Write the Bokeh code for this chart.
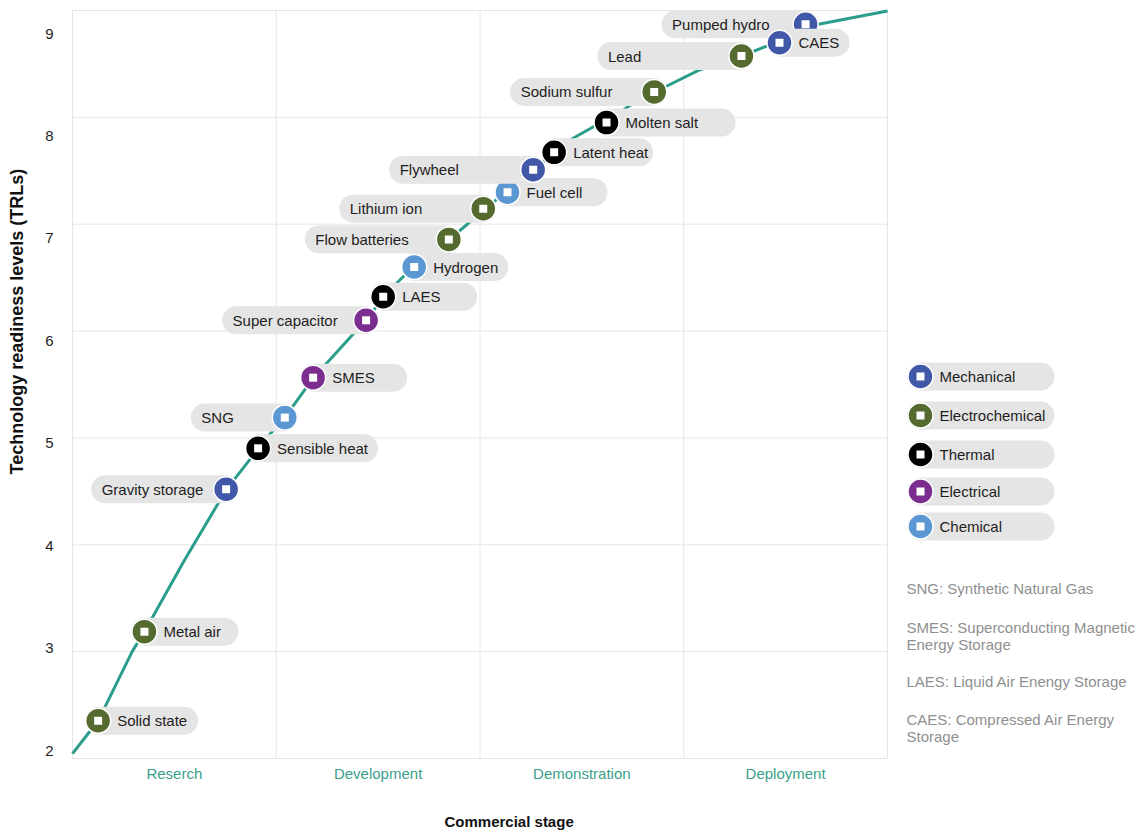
import math
import numpy as np
from bokeh.plotting import figure
from bokeh.models import Range1d, FixedTicker, Title
from bokeh.embed import file_html
from bokeh.resources import INLINE
from bokeh.core.properties import value

# ---------------- data ----------------
stage_labels = ["Reserch", "Development", "Demonstration", "Deployment"]
stage_ticks = [0.5, 1.5, 2.5, 3.5]
trl_ticks = [2, 3, 4, 5, 6, 7, 8, 9]

techs = ["Solid state", "Metal air", "Gravity storage", "Sensible heat", "SNG",
         "SMES", "Super capacitor", "LAES", "Hydrogen", "Flow batteries",
         "Lithium ion", "Fuel cell", "Flywheel", "Latent heat", "Molten salt",
         "Sodium sulfur", "Lead", "Pumped hydro", "CAES"]
tech_type = ["Electrochemical", "Electrochemical", "Mechanical", "Thermal", "Chemical",
             "Electrical", "Electrical", "Thermal", "Chemical", "Electrochemical",
             "Electrochemical", "Chemical", "Mechanical", "Thermal", "Thermal",
             "Electrochemical", "Electrochemical", "Mechanical", "Mechanical"]
stage_pos = [0.126, 0.353, 0.754, 0.911, 1.042, 1.181, 1.441, 1.525, 1.677, 1.847,
             2.016, 2.135, 2.261, 2.364, 2.621, 2.855, 3.283, 3.598, 3.470]
trl = [2.29, 3.16, 4.55, 4.95, 5.25, 5.64, 6.20, 6.43, 6.72, 6.99,
       7.29, 7.45, 7.67, 7.84, 8.13, 8.43, 8.78, 9.09, 8.91]

curve_stage = [0.000, 0.126, 0.294, 0.353, 0.550, 0.756, 0.913, 0.957, 1.045, 1.183,
               1.389, 1.443, 1.526, 1.620, 1.678, 1.850, 1.939, 2.017, 2.135, 2.263,
               2.366, 2.459, 2.557, 2.621, 2.729, 2.856, 2.920, 3.072, 3.283, 3.411,
               3.470, 3.661, 4.000]
curve_trl = [1.97, 2.29, 2.97, 3.16, 3.86, 4.55, 4.95, 5.06, 5.26, 5.64,
             6.09, 6.20, 6.43, 6.62, 6.72, 6.99, 7.14, 7.29, 7.45, 7.67,
             7.84, 7.98, 8.09, 8.13, 8.29, 8.42, 8.49, 8.64, 8.78, 8.88,
             8.91, 9.09, 9.22]

categories = ["Mechanical", "Electrochemical", "Thermal", "Electrical", "Chemical"]

notes = ["SNG: Synthetic Natural Gas",
         "SMES: Superconducting Magnetic", "Energy Storage",
         "LAES: Liquid Air Enengy Storage",
         "CAES: Compressed Air Energy", "Storage"]

# ---------------- styles ----------------
cat_color = {"Mechanical": "#4157a8", "Electrochemical": "#556a2f", "Thermal": "#000000",
             "Electrical": "#7b2d90", "Chemical": "#5a97d3"}
label_side = ["R", "R", "L", "R", "L", "R", "L", "R", "R", "L",
              "L", "R", "L", "R", "R", "L", "L", "L", "R"]
pill_px = [100, 94, 135, 120, 94, 94, 144, 94, 94, 144,
           144, 100, 144, 99, 129, 144, 144, 144, 70]
PILL = "#e5e5e5"
GRID = "#e6e6e6"
TEAL = "#2b9d8b"
TEAL_TXT = "#3a9f8c"
FONT = "Liberation Sans"
TXT = "#1e1e1e"

W, H = 1145, 832
# mapping page pixels -> data (plot box 72..887 = 4 stages; y ticks 2 at 750, 9 at 33)
PX_X = 815 / 4.0
PX_Y = 717 / 7.0
def X(px):
    return (px - 72) / PX_X
def Y(py):
    return 2 + (750 - py) / PX_Y

p = figure(width=W, height=H, output_backend="svg", toolbar_location=None,
           x_range=Range1d(X(70), X(1145)), y_range=Range1d(Y(760), Y(8)),
           min_border_left=70, min_border_right=0, min_border_top=8, min_border_bottom=72,
           title=None)
p.outline_line_color = None
p.xgrid.visible = False
p.ygrid.visible = False
p.background_fill_color = "white"
p.border_fill_color = "white"

# axes
p.xaxis.ticker = FixedTicker(ticks=stage_ticks)
p.xaxis.major_label_overrides = {t: l for t, l in zip(stage_ticks, stage_labels)}
p.yaxis.ticker = FixedTicker(ticks=trl_ticks)
for ax in (p.xaxis, p.yaxis):
    ax.axis_line_color = None
    ax.major_tick_line_color = None
    ax.minor_tick_line_color = None
    ax.major_tick_out = 0
    ax.major_tick_in = 0
    ax.minor_tick_out = 0
    ax.major_label_text_font = FONT
    ax.major_label_text_font_size = "15px"
p.xaxis.major_label_text_color = TEAL_TXT
p.xaxis.major_label_standoff = 4
p.yaxis.major_label_text_color = TXT
p.yaxis.major_label_standoff = 17

# spacers between the axes and their titles
p.add_layout(Title(text="\u00a0", text_font_size="1px", standoff=23), "below")
p.add_layout(Title(text="\u00a0", text_font_size="1px", standoff=13), "left")

# axis titles (left-aligned titles shifted along the frame to match the reference)
p.add_layout(Title(text="Commercial stage", align="left", offset=374,
                   standoff=0, text_font=FONT, text_font_size="15px",
                   text_font_style="bold", text_color="#111111"), "below")
p.add_layout(Title(text="Technology readiness levels (TRLs)", align="left",
                   offset=286, standoff=0, text_font=FONT,
                   text_font_size="18px", text_font_style="bold", text_color="#111111"),
             "left")

# grid box (even divisions of the plot box)
gy = [Y(10 + k * 748 / 7) for k in range(8)]
p.segment(x0=[0] * 8, x1=[4] * 8, y0=gy, y1=gy, line_color=GRID, line_width=1)
p.segment(x0=[0, 1, 2, 3, 4], x1=[0, 1, 2, 3, 4], y0=[Y(758)] * 5, y1=[Y(10)] * 5,
          line_color=GRID, line_width=1)

# curve
p.line(curve_stage, curve_trl, line_color=TEAL, line_width=3)

# items
for i, name in enumerate(techs):
    cx, cy = stage_pos[i], trl[i]
    w = pill_px[i]
    if label_side[i] == "R":
        left, right = cx - 13 / PX_X, cx + w / PX_X
        xoff = 19
    else:
        left, right = cx - w / PX_X, cx + 13 / PX_X
        xoff = -w + 10.5
    p.quad(left=[left], right=[right], bottom=[cy - 14 / PX_Y], top=[cy + 14 / PX_Y],
           border_radius=14, fill_color=PILL, line_color=None)
    p.scatter([cx], [cy], marker="circle", size=25, fill_color=cat_color[tech_type[i]],
              line_color="white", line_width=1.5)
    p.scatter([cx], [cy], marker="square", size=8, fill_color="white", line_color=None)
    p.text([cx], [cy], text=[name], x_offset=xoff, text_align="left", text_baseline="middle",
           text_font=value(FONT), text_font_size=value("15px"), text_color=TXT)

# legend
leg_y = [376, 415, 454, 491, 526]
for cat, ly in zip(categories, leg_y):
    cy = Y(ly)
    p.quad(left=[X(907)], right=[X(1054)], bottom=[cy - 14 / PX_Y], top=[cy + 14 / PX_Y],
           border_radius=14, fill_color=PILL, line_color=None)
    p.scatter([X(920)], [cy], marker="circle", size=25, fill_color=cat_color[cat],
              line_color="white", line_width=1.5)
    p.scatter([X(920)], [cy], marker="square", size=8, fill_color="white", line_color=None)
    p.text([X(920)], [cy], text=[cat], x_offset=19, text_align="left", text_baseline="middle",
           text_font=value(FONT), text_font_size=value("15px"), text_color=TXT)

# notes
note_y = [588, 627, 644, 681, 719, 736]
p.text([X(906)] * len(notes), [Y(v) for v in note_y], text=notes, text_align="left",
       text_baseline="middle", text_font=value(FONT), text_font_size=value("15px"),
       text_color="#8f8f8f")

open("out.html", "w").write(file_html(p, INLINE))
